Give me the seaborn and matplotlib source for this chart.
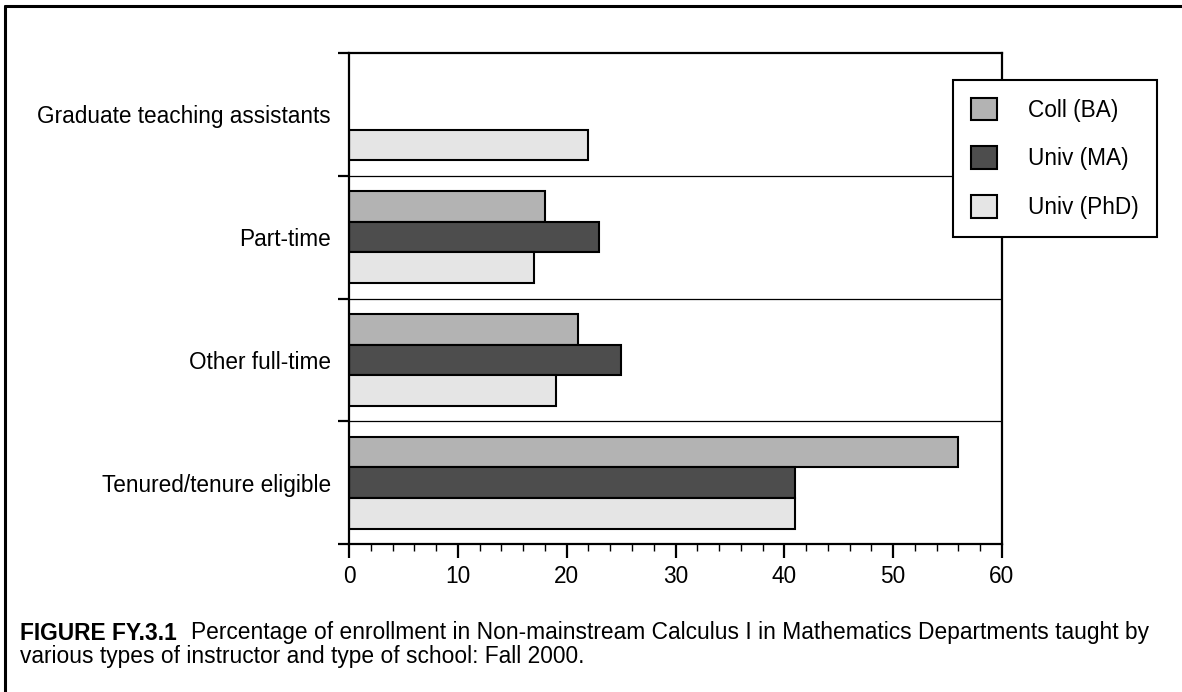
import numpy as np
import pandas as pd
import matplotlib
matplotlib.use("Agg")
import matplotlib.pyplot as plt
from matplotlib.patches import Patch
from matplotlib.lines import Line2D
from matplotlib.ticker import MultipleLocator, FixedLocator
import seaborn as sns

# ==============================
# DATA
# ==============================

categories = [
    "Graduate teaching assistants",
    "Part-time",
    "Other full-time",
    "Tenured/tenure eligible",
]

schools = ["Coll (BA)", "Univ (MA)", "Univ (PhD)"]

coll_ba = [np.nan, 18, 21, 56]
univ_ma = [np.nan, 23, 25, 41]
univ_phd = [22, 17, 19, 41]

colors = ["#b3b3b3", "#4d4d4d", "#e5e5e5"]

caption_bold = "FIGURE FY.3.1"
caption_line1 = "Percentage of enrollment in Non-mainstream Calculus I in Mathematics Departments taught by"
caption_line2 = "various types of instructor and type of school: Fall 2000."

df = pd.DataFrame({
    "category": categories * 3,
    "school": [s for s in schools for _ in categories],
    "pct": coll_ba + univ_ma + univ_phd,
})

# ==============================
# STYLE
# ==============================

sns.set_style("white")
plt.rcParams["font.family"] = ["Liberation Sans", "DejaVu Sans"]
plt.rcParams["text.color"] = "black"
fs = 16.3

fig = plt.figure(figsize=(11.82, 6.92), dpi=100)
ax = fig.add_axes([349 / 1182, 1 - 544 / 692, 653 / 1182, 491 / 692])

sns.barplot(
    data=df.dropna(),
    x="pct",
    y="category",
    hue="school",
    order=categories,
    hue_order=schools,
    palette=colors,
    width=0.75,
    edgecolor="black",
    linewidth=1.5,
    saturation=1,
    legend=False,
    ax=ax,
)

ax.set_xlim(0, 60)
ax.set_ylim(3.5, -0.5)
ax.set_xlabel("")
ax.set_ylabel("")

# separators between groups
for yb in [0.5, 1.5, 2.5]:
    ax.axhline(yb, color="black", lw=0.9, zorder=0.5)

for side in ["left", "right", "top", "bottom"]:
    ax.spines[side].set_visible(True)
    ax.spines[side].set_color("black")
    ax.spines[side].set_linewidth(1.6)

# x ticks
ax.xaxis.set_major_locator(MultipleLocator(10))
ax.xaxis.set_minor_locator(MultipleLocator(2))
ax.tick_params(axis="x", which="major", bottom=True, length=10, width=1.6,
               direction="out", labelsize=fs, pad=5, colors="black")
ax.tick_params(axis="x", which="minor", bottom=True, length=5, width=1.0,
               direction="out", colors="black")

# y ticks: labels at categories, marks at group boundaries
ax.yaxis.set_minor_locator(FixedLocator([-0.5, 0.5, 1.5, 2.5, 3.5]))
ax.tick_params(axis="y", which="major", left=True, length=0, pad=13,
               labelsize=fs, colors="black")
ax.tick_params(axis="y", which="minor", left=True, length=8, width=1.6,
               direction="out", colors="black")

# legend
handles = [Patch(facecolor=c, edgecolor="black", linewidth=1.5) for c in colors]
leg = ax.legend(
    handles, schools,
    loc="upper left",
    bbox_to_anchor=(953 / 1182, 1 - 80 / 692),
    bbox_transform=fig.transFigure,
    borderaxespad=0,
    frameon=True,
    fancybox=False,
    framealpha=1,
    edgecolor="black",
    fontsize=fs,
    handlelength=1.15,
    handleheight=1.15,
    handletextpad=1.4,
    labelspacing=1.1,
    borderpad=0.78,
)
leg.get_frame().set_linewidth(1.5)

# outer frame (top and left edges)
fig.add_artist(Line2D([5 / 1182, 1], [1 - 6 / 692, 1 - 6 / 692],
                      transform=fig.transFigure, color="black", lw=2.2))
fig.add_artist(Line2D([5 / 1182, 5 / 1182], [0, 1 - 6 / 692],
                      transform=fig.transFigure, color="black", lw=2.2))

# caption
cfs = 16.4
t_bold = fig.text(20 / 1182, 1 - 633 / 692, caption_bold, fontsize=cfs,
                  fontweight="bold", va="center", ha="left", color="black")
fig.canvas.draw()
ax.annotate(caption_line1, xy=(1, 0.5), xycoords=t_bold,
            xytext=(10, 0), textcoords="offset points", color="black",
            fontsize=cfs, va="center", ha="left", annotation_clip=False)
fig.text(20 / 1182, 1 - 656 / 692, caption_line2, fontsize=cfs,
         va="center", ha="left", color="black")

fig.savefig("out.png", dpi=100)
